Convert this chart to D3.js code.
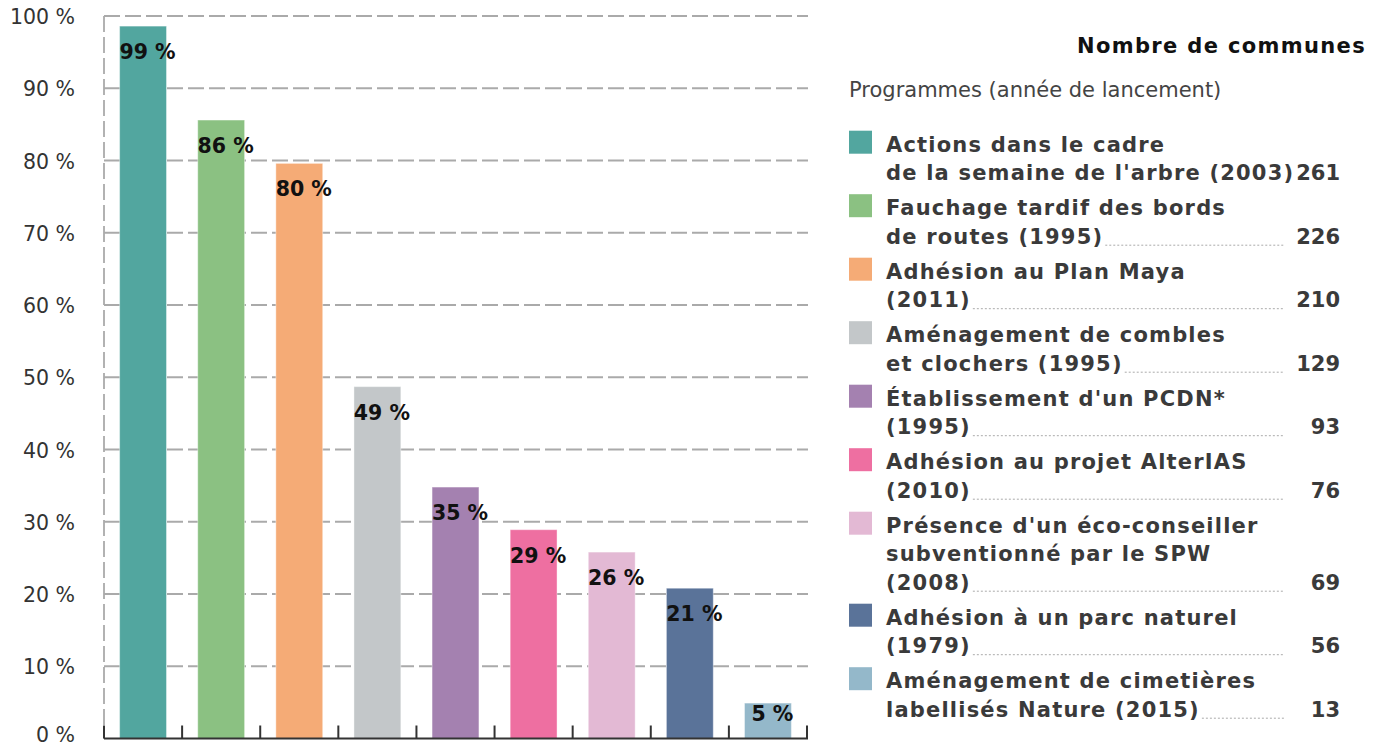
<!DOCTYPE html>
<html>
<head>
<meta charset="utf-8">
<script src="https://cdn.jsdelivr.net/npm/d3@7"></script>
<style>
  body { margin: 0; background: #fff; }
  text { font-family: 'DejaVu Sans', sans-serif; }
</style>
</head>
<body>
<div class="chart"></div>
<script>
// Data
const programmes = [
  ["Actions dans le cadre", "de la semaine de l'arbre (2003)"],
  ["Fauchage tardif des bords", "de routes (1995)"],
  ["Adhésion au Plan Maya", "(2011)"],
  ["Aménagement de combles", "et clochers (1995)"],
  ["Établissement d'un PCDN*", "(1995)"],
  ["Adhésion au projet AlterIAS", "(2010)"],
  ["Présence d'un éco-conseiller", "subventionné par le SPW", "(2008)"],
  ["Adhésion à un parc naturel", "(1979)"],
  ["Aménagement de cimetières", "labellisés Nature (2015)"]
];
const communes = [261, 226, 210, 129, 93, 76, 69, 56, 13];
const percents = [98.6, 85.6, 79.6, 48.7, 34.8, 28.9, 25.8, 20.8, 4.9];
const colors = ["#52a69f", "#8bc182", "#f5ab76", "#c3c7c9", "#a481b0",
                "#ee6fa1", "#e3b9d4", "#5a7399", "#94b8ca"];
const yTicks = [0, 10, 20, 30, 40, 50, 60, 70, 80, 90, 100];

const width = 1386;
const height = 747;
const plot = {left: 104, right: 807, top: 16, bottom: 738.5};

const svg = d3.select('.chart')
  .append('svg')
  .attr('width', width)
  .attr('height', height);

const xScale = d3.scaleBand()
  .domain(d3.range(percents.length))
  .range([plot.left, plot.right])
  .paddingInner(0.4)
  .paddingOuter(0.2);

const yScale = d3.scaleLinear()
  .domain([0, 100])
  .range([plot.bottom, plot.top]);

// dashed grid lines
svg.selectAll('.grid')
  .data(yTicks.filter(d => d > 0))
  .enter()
  .append('line')
  .attr('class', 'grid')
  .attr('x1', plot.left)
  .attr('x2', plot.right + 1)
  .attr('y1', d => yScale(d))
  .attr('y2', d => yScale(d))
  .attr('stroke', '#aaa')
  .attr('stroke-width', 1.8)
  .attr('stroke-dasharray', '16,5');

svg.append('line')
  .attr('x1', plot.left)
  .attr('x2', plot.left)
  .attr('y1', plot.top)
  .attr('y2', plot.bottom)
  .attr('stroke', '#aaa')
  .attr('stroke-width', 1.8)
  .attr('stroke-dasharray', '16,5');

// y labels (keep the 0 % one inside the bottom edge)
svg.selectAll('.ylab')
  .data(yTicks)
  .enter()
  .append('text')
  .attr('class', 'ylab')
  .attr('x', 75)
  .attr('y', d => Math.min(yScale(d) + 8, 741.5))
  .attr('text-anchor', 'end')
  .attr('font-size', 20.5)
  .attr('fill', '#333')
  .text(d => d + ' %');

// bars
svg.selectAll('.bar')
  .data(percents)
  .enter()
  .append('rect')
  .attr('class', 'bar')
  .attr('x', (d, i) => xScale(i))
  .attr('width', xScale.bandwidth())
  .attr('y', d => yScale(d))
  .attr('height', d => plot.bottom - yScale(d))
  .attr('fill', (d, i) => colors[i])
  .attr('stroke', '#fff')
  .attr('stroke-opacity', 0.4)
  .attr('stroke-width', 1);

svg.selectAll('.barlab')
  .data(percents)
  .enter()
  .append('text')
  .attr('class', 'barlab')
  .attr('x', (d, i) => xScale(i) + xScale.bandwidth() / 2 + 4.5)
  .attr('y', d => Math.min(yScale(d) + 33, plot.bottom - 18))
  .attr('text-anchor', 'middle')
  .attr('font-size', 20.5)
  .attr('font-weight', 'bold')
  .attr('fill', '#111')
  .text(d => Math.round(d) + ' %');

// bottom axis with ticks between the bars
const step = xScale.step();
svg.append('line')
  .attr('x1', plot.left)
  .attr('x2', plot.right + 1)
  .attr('y1', plot.bottom)
  .attr('y2', plot.bottom)
  .attr('stroke', '#333')
  .attr('stroke-width', 2);

svg.selectAll('.xtick')
  .data(d3.range(percents.length + 1))
  .enter()
  .append('line')
  .attr('class', 'xtick')
  .attr('x1', d => plot.left + d * step)
  .attr('x2', d => plot.left + d * step)
  .attr('y1', plot.bottom)
  .attr('y2', plot.bottom - 13)
  .attr('stroke', '#333')
  .attr('stroke-width', 2);

// legend
svg.append('text')
  .attr('x', 1366)
  .attr('y', 52.5)
  .attr('text-anchor', 'end')
  .attr('font-size', 21)
  .attr('font-weight', 'bold')
  .attr('letter-spacing', 1.35)
  .attr('fill', '#111')
  .text('Nombre de communes');

svg.append('text')
  .attr('x', 849)
  .attr('y', 97)
  .attr('font-size', 21)
  .attr('fill', '#444')
  .text('Programmes (année de lancement)');

const lineH = 28.5;
const itemGap = 35;
let baseY = 151.7;

programmes.forEach(function(lines, i) {
  const g = svg.append('g');
  g.append('rect')
    .attr('x', 849)
    .attr('y', baseY - 21)
    .attr('width', 23)
    .attr('height', 23)
    .attr('fill', colors[i]);

  let lastText;
  lines.forEach(function(line, j) {
    lastText = g.append('text')
      .attr('x', 886)
      .attr('y', baseY + j * lineH)
      .attr('font-size', 21)
      .attr('font-weight', 'bold')
      .attr('letter-spacing', 1.2)
      .attr('fill', '#3a3a3a')
      .text(line);
  });

  const lastY = baseY + (lines.length - 1) * lineH;
  const textEnd = 886 + lastText.node().getComputedTextLength();
  if (textEnd + 4 < 1284) {
    g.append('line')
      .attr('x1', textEnd + 2)
      .attr('x2', 1284)
      .attr('y1', lastY + 1.5)
      .attr('y2', lastY + 1.5)
      .attr('stroke', '#aaa')
      .attr('stroke-width', 1)
      .attr('stroke-dasharray', '2,2');
  }

  g.append('text')
    .attr('x', 1340)
    .attr('y', lastY)
    .attr('text-anchor', 'end')
    .attr('font-size', 21)
    .attr('font-weight', 'bold')
    .attr('fill', '#3a3a3a')
    .text(communes[i]);

  baseY = lastY + itemGap;
});
</script>
</body>
</html>
